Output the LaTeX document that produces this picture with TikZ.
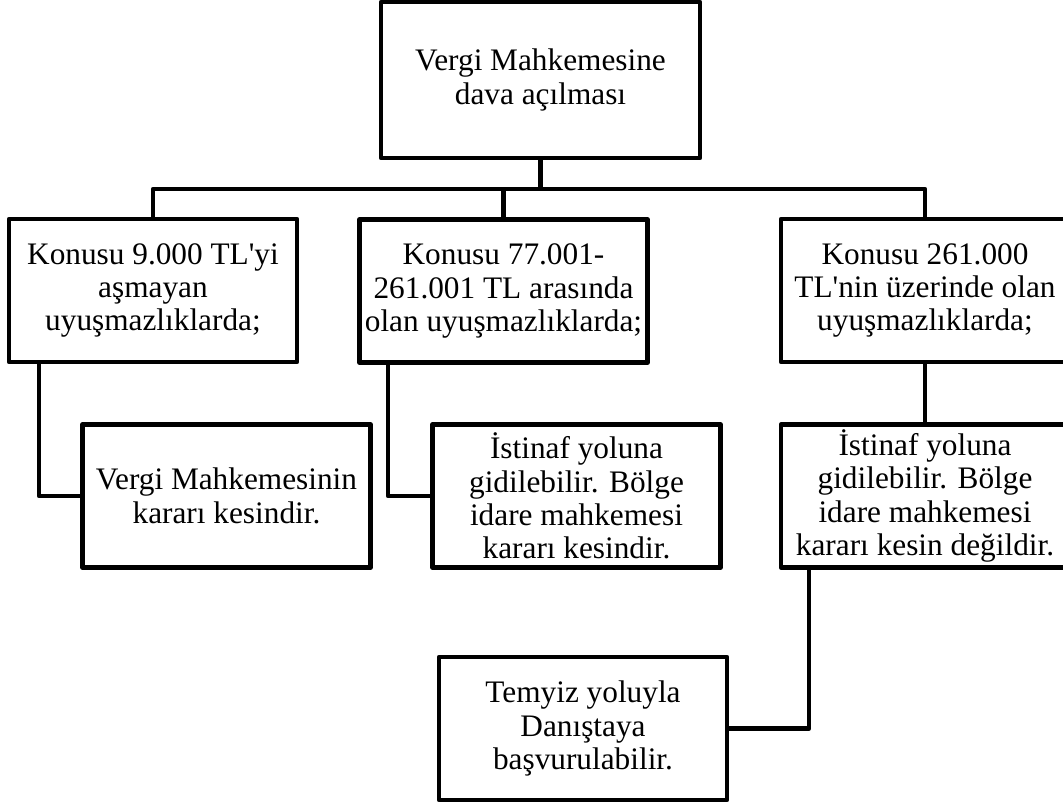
\documentclass[tikz,border=0pt]{standalone}
\usepackage{fontspec}
\setmainfont{Liberation Serif}
\begin{document}
\begin{tikzpicture}[x=1pt,y=-1pt,line width=4.7pt,line join=round,
    kutu/.style={draw,rectangle,inner sep=0pt,align=center,minimum width=288pt,minimum height=143pt,
        font=\fontsize{31.3}{33.3}\selectfont}]
                \useasboundingbox (0,0) rectangle (1063,807);
                \node[kutu,minimum width=319pt,minimum height=156pt] (ust) at (540.5,80) {Vergi Mahkemesine\\dava açılması};
                \node[kutu] (k1) at (153,290.5) {Konusu 9.000 TL\textquotesingle yi\\aşmayan\\uyuşmazlıklarda;};
                \node[kutu] (k2) at (503.5,291) {Konusu 77.001-\\261.001 TL arasında\\olan uyuşmazlıklarda;};
                \node[kutu] (k3) at (925,290.5) {Konusu 261.000\\TL\textquotesingle nin üzerinde olan\\uyuşmazlıklarda;};
                \node[kutu] (s1) at (226.5,496) {Vergi Mahkemesinin\\kararı kesindir.};
                \node[kutu] (s2) at (576.5,496) {İstinaf yoluna\\gidilebilir. Bölge\\idare mahkemesi\\kararı kesindir.};
                \node[kutu] (s3) at (925,496) {İstinaf yoluna\\gidilebilir. Bölge\\idare mahkemesi\\kararı kesin değildir.};
                \node[kutu] (tem) at (583,728.5) {Temyiz yoluyla\\Danıştaya\\başvurulabilir.};
                \coordinate (bus) at (540.5,189);
                \coordinate (e1) at (39,496);
                \coordinate (e2) at (388,496);
                \coordinate (e3) at (809,728.5);
                \draw (ust.south) -- (ust.south |- bus);
                \draw (k1.north) |- (bus) -| (k3.north);
                \draw (k2.north) -- (k2.north |- bus);
                \draw (e1 |- k1.south) -- (e1) -- (s1.west);
                \draw (e2 |- k2.south) -- (e2) -- (s2.west);
                \draw (k3.south) -- (s3.north);
                \draw (e3 |- s3.south) -- (e3) -- (tem.east);
            \end{tikzpicture}
\end{document}
